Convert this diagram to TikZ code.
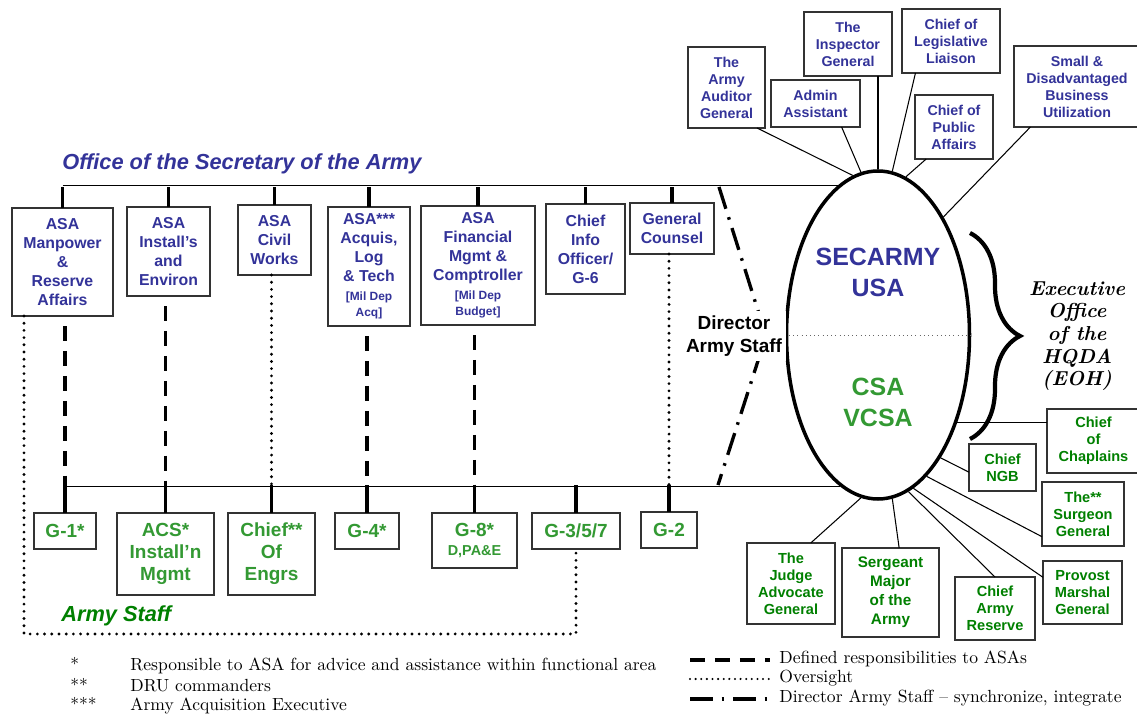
\documentclass[tikz,border=0pt]{standalone}
\usepackage{fontspec}
\setsansfont{Liberation Sans}
\usetikzlibrary{shapes.geometric,decorations.pathreplacing}
\definecolor{osablue}{RGB}{51,51,153}
\definecolor{asgreen}{RGB}{51,153,51}
\definecolor{dkgreen}{RGB}{0,128,0}
\newcommand{\milsm}[1]{{\fontsize{6.8}{8}\selectfont #1}}
\tikzset{
	sz/.style 2 args={minimum width=#1*0.02cm, minimum height=#2*0.02cm},
	box/.style={draw=black!80, line width=0.7pt, fill=white, align=center, inner sep=0pt, outer sep=0pt},
	osabox/.style={box, text=osablue, font=\sffamily\bfseries\fontsize{9}{10.8}\selectfont},
	exbox/.style={box, text=osablue, font=\sffamily\bfseries\fontsize{8.1}{9.7}\selectfont},
	asbox/.style={box, text=asgreen, font=\sffamily\bfseries\fontsize{10.8}{12.5}\selectfont},
	fldbox/.style={box, text=dkgreen, font=\sffamily\bfseries\fontsize{8.3}{9.6}\selectfont},
	stub/.style={line width=1.9pt},
	link/.style={line width=0.6pt},
	resp/.style={line width=2pt, dash pattern=on 8.5pt off 5.7pt},
	ovs/.style={line width=1.8pt, line cap=round, dash pattern=on 0pt off 4.1pt},
	das/.style={line width=1.9pt, dash pattern=on 13pt off 5pt on 1.5pt off 5pt},
	leg/.style={font=\fontsize{10}{12}\selectfont, inner sep=0pt, anchor=base west}
}

\begin{document}
\begin{tikzpicture}[x=0.02cm, y=-0.02cm]
	\useasboundingbox (0,0) rectangle (1137,715);

	\node [osabox, sz={101}{108}] (mra) at (62.5,262) {ASA\\Manpower\\\&\\Reserve\\Affairs};
	\node [osabox, sz={83}{89}] (ie) at (168.5,251.5) {ASA\\Install’s\\and\\Environ};
	\node [osabox, sz={73}{70}] (cw) at (274.5,240) {ASA\\Civil\\Works};
	\node [osabox, sz={82}{119}] (alt) at (369,266.5) {ASA***\\Acquis,\\Log\\\& Tech\\\milsm{[Mil Dep}\\[-1.5pt]\milsm{Acq]}};
	\node [osabox, sz={114}{119}] (fmc) at (478,265.5) {ASA\\Financial\\Mgmt \&\\Comptroller\\\milsm{[Mil Dep}\\[-1.5pt]\milsm{Budget]}};
	\node [osabox, sz={79}{90}] (cio) at (585.5,249) {Chief\\Info\\Officer/\\G-6};
	\node [osabox, sz={84}{51}] (gc) at (672,228.5) {General\\Counsel};

	\node [asbox, sz={62}{36}] (g1) at (65,531) {G-1*};
	\node [asbox, sz={97}{82}] (acs) at (165.5,554) {ACS*\\Install’n\\Mgmt};
	\node [asbox, sz={87}{82}] (coe) at (271.5,554) {Chief**\\Of\\Engrs};
	\node [asbox, sz={64}{36}] (g4) at (367,531) {G-4*};
	\node [asbox, sz={85}{55}] (g8) at (474.5,540.5) {G-8*\\[-1.2pt]{\fontsize{8.2}{10}\selectfont D,PA\&E}};
	\node [asbox, sz={88}{36}] (g357) at (576,531) {G-3/5/7};
	\node [asbox, sz={56}{36}] (g2) at (669,530) {G-2};

	\node [draw, ellipse, line width=2pt, sz={183}{328}, inner sep=0pt] (ell) at (878,335) {};
	\draw [black!60, line width=0.4pt, dotted] (ell.west) -- (ell.east);
	\node [font=\sffamily\bfseries\fontsize{14.2}{17.6}\selectfont, text=osablue, align=center] (sec) at (878,272) {SECARMY\\USA};
	\node [font=\sffamily\bfseries\fontsize{14.2}{17.6}\selectfont, text=asgreen, align=center] (csa) at (878,402) {CSA\\VCSA};

	\node [exbox, sz={77}{81}] (aud) at (726.5,87.5) {The\\Army\\Auditor\\General};
	\node [exbox, sz={89}{47}] (adm) at (815.5,103.5) {Admin\\Assistant};
	\node [exbox, sz={88}{64}] (tig) at (848,44) {The\\Inspector\\General};
	\node [exbox, sz={98}{64}] (cll) at (951,41) {Chief of\\Legislative\\Liaison};
	\node [exbox, sz={78}{64}] (cpa) at (954,127) {Chief of\\Public\\Affairs};
	\node [exbox, sz={126}{81}] (sdb) at (1077,86.5) {Small \&\\Disadvantaged\\Business\\Utilization};

	\node [fldbox, sz={93}{64}] (cch) at (1093.5,441) {Chief\\of\\Chaplains};
	\node [fldbox, sz={67}{47}] (ngb) at (1002.5,467.5) {Chief\\NGB};
	\node [fldbox, sz={82}{64}] (tsg) at (1083,514) {The**\\Surgeon\\General};
	\node [fldbox, sz={79}{63}] (pmg) at (1082.5,592.5) {Provost\\Marshal\\General};
	\node [fldbox, sz={80}{63}] (car) at (995,608.5) {Chief\\Army\\Reserve};
	\node [fldbox, sz={97}{89}, font=\sffamily\bfseries\fontsize{8.7}{10.8}\selectfont] (sma) at (890.5,592.5) {Sergeant\\Major\\of the\\Army};
	\node [fldbox, sz={88}{81}] (jag) at (791,583.5) {The\\Judge\\Advocate\\General};

	\coordinate (osal) at (0,187);
	\coordinate (asl) at (0,485);
	\draw [link] (mra.north |- ell.105.5) -- (ell.105.5);
	\draw [link] (g1.north |- ell.256) -- (ell.256);
	\foreach \n in {mra,ie,cw,alt,fmc,cio,gc}
		\draw [stub] (\n.north) -- (\n.north |- osal);
	\foreach \n in {g1,acs,coe,g4,g8,g357,g2}
		\draw [stub] (\n.north) -- (\n.north |- asl);

	\draw [resp, dash phase=8.5pt] (g1.north |- mra.south) -- (g1.north |- asl);
	\draw [resp, dash phase=8.5pt] (acs.north |- ie.south) -- (acs.north |- asl);
	\draw [resp, dash phase=8.5pt] (g4.north |- alt.south) -- (g4.north |- asl);
	\draw [resp, dash phase=8.5pt] (g8.north |- fmc.south) -- (g8.north |- asl);
	\draw [ovs] (coe.north |- cw.south) -- (coe.north |- asl);
	\draw [ovs] (g2.north |- gc.south) -- (g2.north |- asl);
	\coordinate (ovc) at (24,634);
	\draw [ovs] (ovc |- mra.south) -- (ovc) -| (g357.south);

	\coordinate (dt) at (719,187);
	\coordinate (dm) at (766,336);
	\coordinate (db) at (718,485);
	\draw [das] (dt) -- (dm) -- (db);
	\node [fill=white, inner sep=2.5pt, align=center, font=\sffamily\bfseries\fontsize{10.8}{13}\selectfont] (dir) at (734,336) {Director\\Army Staff};

	\draw [link] (aud.-53) -- (ell.99.3);
	\draw [link] (adm.-42) -- (ell.96.3);
	\draw [link] (ell.90) -- (ell.90 |- tig.south);
	\draw [link] (cll.222) -- (ell.85);
	\draw [link] (cpa.229) -- (ell.80);
	\draw [link] (sdb.221) -- (ell.61);
	\draw [link] (ell.-48) -- (ell.-48 -| cch.west);
	\draw [link] (ell.-63) -- (ngb.188);
	\draw [link] (ell.-71.3) -- (tsg.209);
	\draw [link] (ell.-77.3) -- (pmg.159);
	\draw [link] (ell.-79.4) -- (car.north);
	\draw [link] (ell.-85) -- (sma.79);
	\draw [link] (ell.-96.6) -- (jag.64);

	\coordinate (bt) at (970,233);
	\coordinate (bb) at (970,439);
	\draw [line width=2.4pt, decorate, decoration={brace, amplitude=1cm}] (bt) -- (bb);
	\node [font=\bfseries\itshape\fontsize{11.5}{12.9}\selectfont, align=center] (eoh) at (1077,336) {Executive\\Office\\of the\\HQDA\\(EOH)};

	\node [font=\sffamily\bfseries\itshape\fontsize{12.4}{14}\selectfont, text=osablue, anchor=base west, inner sep=0pt] (osalabel) at (62,170) {Office of the Secretary of the Army};
	\node [font=\sffamily\bfseries\itshape\fontsize{12.4}{14}\selectfont, text=dkgreen, anchor=base west, inner sep=0pt] (aslabel) at (61,622) {Army Staff};

	\node [leg] (k1) at (70,671) {*};
	\node [leg] (k2) at (70,692) {**};
	\node [leg] (k3) at (70,711) {***};
	\node [leg] (n1) at (130,671) {Responsible to ASA for advice and assistance within functional area};
	\node [leg] (n2) at (130,692) {DRU commanders};
	\node [leg] (n3) at (130,711) {Army Acquisition Executive};

	\coordinate (r1) at (690,660);
	\coordinate (r1e) at (770,660);
	\coordinate (r2) at (690,679);
	\coordinate (r2e) at (770,679);
	\coordinate (r3) at (690,699);
	\coordinate (r3e) at (770,699);
	\draw [resp] (r1) -- (r1e);
	\draw [ovs, line width=1.3pt, dash pattern=on 0pt off 3.2pt] (r2) -- (r2e);
	\draw [das] (r3) -- (r3e);
	\node [leg] (m1) at (779,664) {Defined responsibilities to ASAs};
	\node [leg] (m2) at (779,683) {Oversight};
	\node [leg] (m3) at (779,703) {Director Army Staff – synchronize, integrate};
\end{tikzpicture}
\end{document}
